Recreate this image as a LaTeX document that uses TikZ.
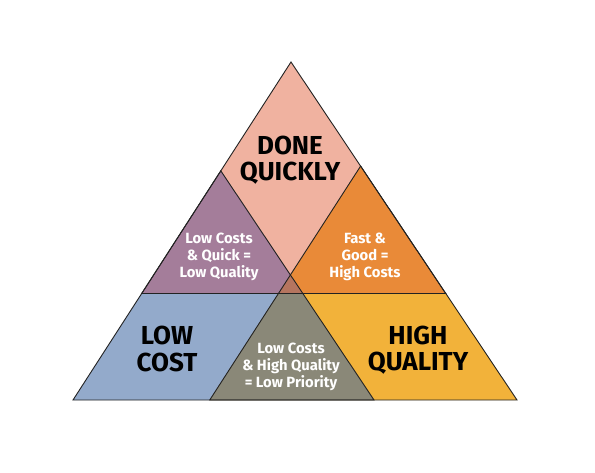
\documentclass[tikz,border=0pt]{standalone}
\usepackage{fontspec}
\setmainfont{Fira Sans}
\usetikzlibrary{calc}
\definecolor{cpink}{HTML}{F0B2A0}
\definecolor{cpurple}{HTML}{A47D9A}
\definecolor{corange}{HTML}{E98A38}
\definecolor{cblue}{HTML}{93AACB}
\definecolor{cgray}{HTML}{8A8878}
\definecolor{cyellow}{HTML}{F2B23A}
\definecolor{cbrown}{HTML}{B5755F}
\definecolor{cline}{HTML}{222222}
\tikzset{
  edge/.style={draw=cline, line width=0.9pt, line join=miter},
  biglabel/.style={align=center, inner sep=0pt, text=black, font=\bfseries\fontsize{26}{26.3}\selectfont},
  smalllabel/.style={align=center, inner sep=0pt, text=white, font=\bfseries\fontsize{14.8}{16.7}\selectfont},
}
\begin{document}
\begin{tikzpicture}[x=1pt,y=-1pt]
\fill[white] (0,0) rectangle (595,473);
\useasboundingbox (0,0) rectangle (595,473);
% outer triangle
\coordinate (A) at (291,62);
\coordinate (L) at (73,400);
\coordinate (R) at (517,400);
\def\k{0.685}
\def\kl{0.678}
\def\kr{0.692}
% top triangle
\coordinate (TL) at ($(A)!\k!(L)$);
\coordinate (TR) at ($(A)!\k!(R)$);
% lower-left triangle
\coordinate (LA) at ($(L)!\kl!(A)$);
\coordinate (LR) at ($(L)!\kl!(R)$);
% lower-right triangle
\coordinate (RA) at ($(R)!\kr!(A)$);
\coordinate (RL) at ($(R)!\kr!(L)$);
% base fills
\fill[cpink] (A) -- (TL) -- (TR) -- cycle;
\fill[cblue] (L) -- (LR) -- (LA) -- cycle;
\fill[cyellow] (R) -- (RL) -- (RA) -- cycle;
% overlaps
\begin{scope}
  \clip (A) -- (TL) -- (TR) -- cycle;
  \fill[cpurple] (L) -- (LR) -- (LA) -- cycle;
  \fill[corange] (R) -- (RL) -- (RA) -- cycle;
\end{scope}
\begin{scope}
  \clip (L) -- (LR) -- (LA) -- cycle;
  \fill[cgray] (R) -- (RL) -- (RA) -- cycle;
  \clip (A) -- (TL) -- (TR) -- cycle;
  \fill[cbrown] (R) -- (RL) -- (RA) -- cycle;
\end{scope}
% outlines
\draw[edge] (A) -- (TL) -- (TR) -- cycle;
\draw[edge] (L) -- (LR) -- (LA) -- cycle;
\draw[edge] (R) -- (RL) -- (RA) -- cycle;
% labels
\node[biglabel] (done) at (290,160) {DONE\\QUICKLY};
\node[biglabel] (lowcost) at (167,349) {LOW\\COST};
\node[biglabel] (highq) at (418,350) {HIGH\\QUALITY};
\node[smalllabel] (lcq) at (219,257) {Low Costs\\\& Quick =\\Low Quality};
\node[smalllabel] (fg) at (365,257) {Fast \&\\Good =\\High Costs};
\node[smalllabel] (lchq) at (291,367) {Low Costs\\\& High Quality\\= Low Priority};
\end{tikzpicture}
\end{document}
